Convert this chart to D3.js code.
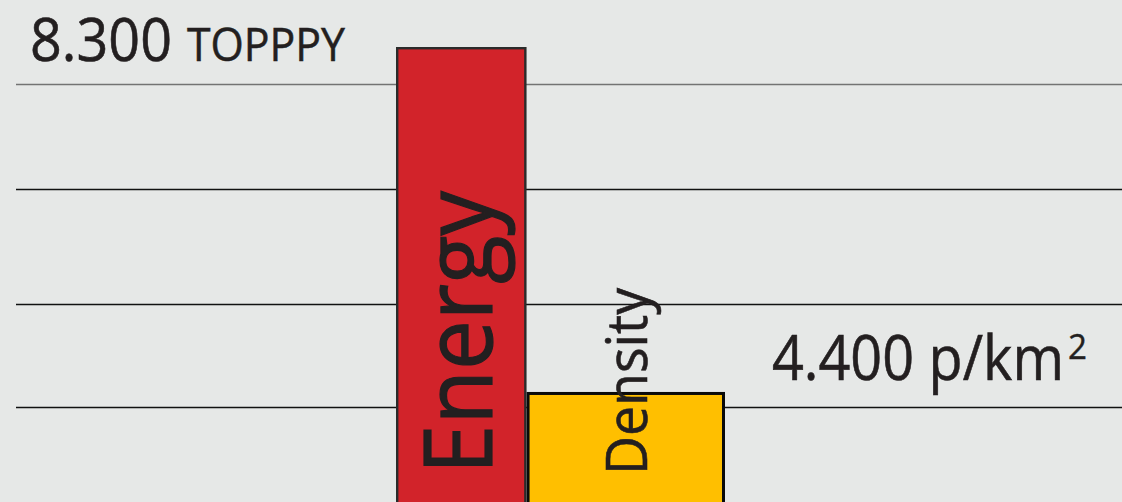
<!DOCTYPE html>
<html><head><meta charset="utf-8">
<script src="https://cdn.jsdelivr.net/npm/d3@7"></script>
<style>html,body{margin:0;padding:0;background:#e6e8e7;overflow:hidden}</style>
</head><body>
<svg id="c" width="1122" height="502"></svg>
<script>
// ---- data ----
const categories = ["Energy", "Density"];
const values = [8300, 4400];
const valueLabels = ["8.300", "4.400"];
const unitLabels = ["TOPPPY", "p/km"];
const gridValues = [4230, 5395, 6695, 7880];

// ---- layout ----
const W = 1122, H = 502;
const svg = d3.select("#c");
const font = "'Open Sans', 'Noto Sans', sans-serif";
const ink = "#231f20";

svg.append("rect").attr("width", W).attr("height", H).attr("fill", "#e6e8e7");

// truncated value axis (infographic style)
const y = d3.scaleLinear().domain([3156, 8300]).range([H, 47]);
// bar spans on a horizontal linear scale (adjacent bars, different widths)
const spans = [[0, 1], [1, 2.52]];
const x = d3.scaleLinear().domain([0, 2.52]).range([396, 725]);

// gridlines
svg.selectAll("line.grid").data(gridValues).join("line")
  .attr("class", "grid")
  .attr("x1", 16).attr("x2", W)
  .attr("y1", d => Math.round(y(d)) + 0.5).attr("y2", d => Math.round(y(d)) + 0.5)
  .attr("stroke", (d, i) => i === gridValues.length - 1 ? "#737373" : "#111")
  .attr("stroke-width", 1.5);

const fills = ["#d2232a", "#ffbf00"];
const strokes = ["#2b2b2b", "#0a0a0a"];
const sw = [2.4, 3];

const order = [1, 0];
order.forEach(i => {
  svg.append("rect")
    .attr("x", x(spans[i][0]) + sw[i] / 2)
    .attr("y", y(values[i]) + sw[i] / 2)
    .attr("width", x(spans[i][1]) - x(spans[i][0]) - sw[i])
    .attr("height", H + 10 - y(values[i]))
    .attr("fill", fills[i])
    .attr("stroke", strokes[i])
    .attr("stroke-width", sw[i]);
});

// rotated category labels
function vlabel(txt, bx, by, size, len, thick) {
  svg.append("text")
    .attr("transform", `translate(${bx},${by}) rotate(-90)`)
    .attr("font-family", font).attr("font-size", size)
    .attr("fill", ink).attr("stroke", ink).attr("stroke-width", thick)
    .attr("textLength", len).attr("lengthAdjust", "spacingAndGlyphs")
    .text(txt);
}
vlabel(categories[0], 492, 474, 96, 283, 1.2);
vlabel(categories[1], 647, 475, 56, 187, 0.6);

// value labels
function hlabel(txt, tx, ty, size, len, thick) {
  const t = svg.append("text")
    .attr("x", tx).attr("y", ty)
    .attr("font-family", font).attr("font-size", size)
    .attr("fill", ink).attr("stroke", ink).attr("stroke-width", thick)
    .text(txt);
  if (len) t.attr("textLength", len).attr("lengthAdjust", "spacingAndGlyphs");
  return t;
}
hlabel(valueLabels[0], 30, 61, 60, 142, 0.6);
hlabel(unitLabels[0], 187, 61, 46, 158, 0.5);

// density label with superscript in one text element
const dl = svg.append("text")
  .attr("font-family", font).attr("fill", ink).attr("stroke", ink);
dl.append("tspan")
  .attr("x", 772).attr("y", 380).attr("font-size", 63).attr("stroke-width", 0.6)
  .attr("textLength", 292).attr("lengthAdjust", "spacingAndGlyphs")
  .text(valueLabels[1] + " " + unitLabels[1]);
dl.append("tspan")
  .attr("x", 1068).attr("y", 359).attr("font-size", 34).attr("stroke-width", 0.4)
  .attr("textLength", 19).attr("lengthAdjust", "spacingAndGlyphs")
  .text("2");
</script>
</body></html>
